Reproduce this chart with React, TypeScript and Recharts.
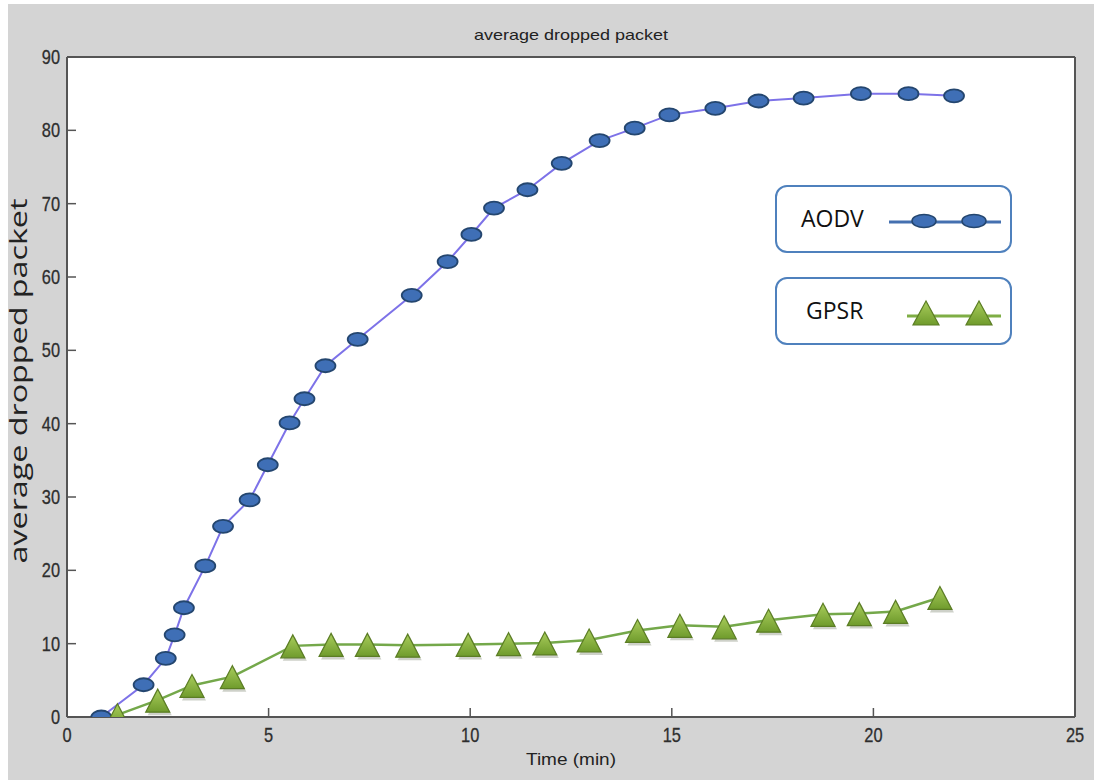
import { LineChart, Line, XAxis, YAxis, CartesianGrid, Legend, Customized } from "recharts";

// AODV samples (time in min, dropped packets)
const aodvTime = [0.85, 1.9, 2.45, 2.67, 2.9, 3.43, 3.87, 4.53, 4.98, 5.52, 5.89, 6.41, 7.21, 8.55, 9.44, 10.03, 10.59, 11.42, 12.27, 13.21, 14.08, 14.94, 16.08, 17.15, 18.27, 19.69, 20.87, 22.0];
const aodvDropped = [0, 4.4, 8.0, 11.2, 14.9, 20.6, 26.0, 29.6, 34.4, 40.1, 43.4, 47.9, 51.5, 57.5, 62.1, 65.8, 69.4, 71.9, 75.5, 78.6, 80.3, 82.1, 83.0, 84.0, 84.4, 85.0, 85.0, 84.7];

// GPSR samples
const gpsrTime = [1.25, 2.25, 3.1, 4.1, 5.6, 6.55, 7.45, 8.45, 9.95, 10.95, 11.85, 12.95, 14.15, 15.2, 16.3, 17.4, 18.75, 19.65, 20.55, 21.65];
const gpsrDropped = [0.3, 2.3, 4.3, 5.5, 9.7, 9.9, 9.9, 9.8, 9.9, 10.0, 10.1, 10.5, 11.8, 12.5, 12.3, 13.2, 14.0, 14.1, 14.4, 16.3];

const xTicks = [0, 5, 10, 15, 20, 25];
const yTicks = [0, 10, 20, 30, 40, 50, 60, 70, 80, 90];

const aodvRows = aodvTime.map((t, i) => ({ time: t, dropped: aodvDropped[i] }));
const gpsrRows = gpsrTime.map((t, i) => ({ time: t, dropped: gpsrDropped[i] }));

const sans = "'Liberation Sans', Arial, sans-serif";
const frame = "#555";

// condensed digits like the MATLAB export
const TickText = ({ x, y, anchor, children }: any) => (
  <text
    transform={`translate(${x},${y}) scale(0.82,1)`}
    textAnchor={anchor}
    fontFamily={sans}
    fontSize={20}
    fill="#2e2e2e"
    stroke="#2e2e2e"
    strokeWidth={0.3}
  >
    {children}
  </text>
);

const BottomTick = ({ x, y, payload }: any) => (
  <g>
    <line x1={x} x2={x} y1={y} y2={y - 9} stroke={frame} strokeWidth={1.5} />
    <TickText x={x} y={y + 25} anchor="middle">{payload.value}</TickText>
  </g>
);

const LeftTick = ({ x, y, payload }: any) => (
  <g>
    <line x1={x} x2={x + 9} y1={y} y2={y} stroke={frame} strokeWidth={1.5} />
    <TickText x={x - 7} y={y + 7} anchor="end">{payload.value}</TickText>
  </g>
);

const TopTick = ({ x, y }: any) => (
  <line x1={x} x2={x} y1={y} y2={y + 9} stroke={frame} strokeWidth={1.5} />
);

const RightTick = ({ x, y }: any) => (
  <line x1={x} x2={x - 9} y1={y} y2={y} stroke={frame} strokeWidth={1.5} />
);

const EllipseDot = ({ cx, cy }: any) => {
  if (cx == null || cy == null) return null;
  return <ellipse key={`e-${cx}-${cy}`} cx={cx} cy={cy} rx={10} ry={6.5} fill="#3f6fb6" stroke="#24466f" strokeWidth={1.8} />;
};

const TriangleDot = ({ cx, cy }: any) => {
  if (cx == null || cy == null) return null;
  return (
    <g key={`t-${cx}-${cy}`}>
      <polygon points={`${cx + 2},${cy - 9} ${cx - 10},${cy + 15} ${cx + 14},${cy + 15}`} fill="rgba(60,70,40,0.25)" />
      <polygon points={`${cx},${cy - 11} ${cx - 12},${cy + 12} ${cx + 12},${cy + 12}`} fill="url(#triFill)" stroke="#5b7d24" strokeWidth={1.2} />
    </g>
  );
};

const Labels = () => (
  <g>
    <defs>
      <linearGradient id="triFill" x1="0" y1="0" x2="0" y2="1">
        <stop offset="0%" stopColor="#a9cd5c" />
        <stop offset="100%" stopColor="#6f9b2c" />
      </linearGradient>
    </defs>
    <text x={571} y={40} textAnchor="middle" fontFamily={sans} fontSize={15} fill="#222" textLength={194} lengthAdjust="spacingAndGlyphs">
      average dropped packet
    </text>
    <text x={571} y={765} textAnchor="middle" fontFamily={sans} fontSize={17} fill="#222" textLength={90} lengthAdjust="spacingAndGlyphs">
      Time (min)
    </text>
    <text
      transform="translate(27,381) rotate(-90)"
      textAnchor="middle"
      fontFamily="'Open Sans', 'Liberation Sans', sans-serif"
      fontSize={24}
      fill="#222"
      textLength={365}
      lengthAdjust="spacingAndGlyphs"
    >
      average dropped packet
    </text>
  </g>
);

const boxStyle: React.CSSProperties = {
  position: "relative",
  width: 233,
  height: 64,
  border: "2px solid #4f81bd",
  borderRadius: 12,
  background: "#fff",
  boxSizing: "content-box",
};

const LegendBoxes = ({ payload }: any) => (
  <div>
    {(payload || []).map((entry: any, i: number) => {
      const isAodv = entry.value === "AODV";
      return (
        <div key={entry.value} style={{ ...boxStyle, marginTop: i === 0 ? 0 : 24 }}>
          <span
            style={{
              position: "absolute",
              left: isAodv ? 24 : 29,
              top: 16,
              fontFamily: "'Open Sans', 'Liberation Sans', sans-serif",
              fontSize: 23,
              lineHeight: "30px",
              color: "#111",
            }}
          >
            {entry.value}
          </span>
          <svg width={233} height={64} style={{ position: "absolute", left: 0, top: 0 }}>
            {isAodv ? (
              <g>
                <line x1={112} x2={224} y1={35} y2={35} stroke="#4470b0" strokeWidth={3} />
                <ellipse cx={147} cy={34} rx={12} ry={6.5} fill="#3f6fb6" stroke="#24466f" strokeWidth={1.5} />
                <ellipse cx={197} cy={34} rx={12} ry={6.5} fill="#3f6fb6" stroke="#24466f" strokeWidth={1.5} />
              </g>
            ) : (
              <g>
                <line x1={130} x2={224} y1={37} y2={37} stroke="#7fae45" strokeWidth={3} />
                <polygon points="149,22 136,46 162,46" fill="url(#triFill)" stroke="#5b7d24" strokeWidth={1.2} />
                <polygon points="202,22 189,46 215,46" fill="url(#triFill)" stroke="#5b7d24" strokeWidth={1.2} />
              </g>
            )}
          </svg>
        </div>
      );
    })}
  </div>
);

export default function App() {
  return (
    <div style={{ position: "absolute", left: 0, top: 0, width: 1094, height: 780, background: "#fff" }}>
      <div style={{ position: "absolute", left: 8, top: 4, right: 0, bottom: 0, background: "#d4d4d4" }} />
      <LineChart
        width={1094}
        height={780}
        style={{ position: "absolute", left: 0, top: 0 }}
        margin={{ top: 56, right: 18, bottom: 23, left: 7 }}
      >
        <CartesianGrid fill="#fff" stroke="none" horizontal={false} vertical={false} />
        <XAxis
          xAxisId="bottom"
          type="number"
          dataKey="time"
          domain={[0, 25]}
          ticks={xTicks}
          height={40}
          tickSize={0}
          tickMargin={0}
          tick={<BottomTick />}
          axisLine={{ stroke: frame, strokeWidth: 2 }}
          allowDataOverflow
        />
        <XAxis
          xAxisId="top"
          orientation="top"
          type="number"
          dataKey="time"
          domain={[0, 25]}
          ticks={xTicks}
          height={1}
          tickSize={0}
          tickMargin={0}
          tick={<TopTick />}
          axisLine={{ stroke: frame, strokeWidth: 2 }}
        />
        <YAxis
          yAxisId="left"
          type="number"
          domain={[0, 90]}
          ticks={yTicks}
          width={60}
          tickSize={0}
          tickMargin={0}
          tick={<LeftTick />}
          axisLine={{ stroke: frame, strokeWidth: 2 }}
          allowDataOverflow
        />
        <YAxis
          yAxisId="right"
          orientation="right"
          type="number"
          domain={[0, 90]}
          ticks={yTicks}
          width={1}
          tickSize={0}
          tickMargin={0}
          tick={<RightTick />}
          axisLine={{ stroke: frame, strokeWidth: 2 }}
        />
        <Line
          xAxisId="bottom"
          yAxisId="left"
          data={aodvRows}
          dataKey="dropped"
          name="AODV"
          stroke="#7d72e8"
          strokeWidth={2}
          dot={<EllipseDot />}
          activeDot={false}
          isAnimationActive={false}
        />
        <Line
          xAxisId="bottom"
          yAxisId="left"
          data={gpsrRows}
          dataKey="dropped"
          name="GPSR"
          stroke="#74a84a"
          strokeWidth={2.5}
          dot={<TriangleDot />}
          activeDot={false}
          isAnimationActive={false}
        />
        <Customized component={Labels} />
        <Legend
          layout="horizontal"
          verticalAlign="middle"
          align="center"
          content={<LegendBoxes />}
          wrapperStyle={{ position: "absolute", left: 775, top: 185, width: 240, height: 160 }}
        />
      </LineChart>
    </div>
  );
}
